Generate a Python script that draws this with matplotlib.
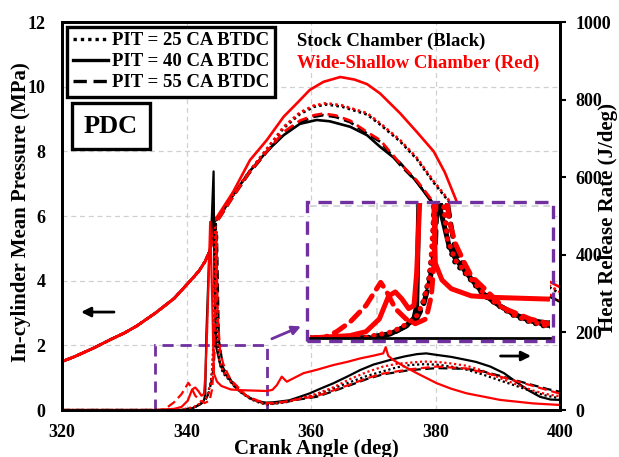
import matplotlib
matplotlib.use("Agg")
import matplotlib.pyplot as plt
from matplotlib.lines import Line2D
from matplotlib.patches import Rectangle

plt.rcParams['font.family'] = ['Liberation Serif', 'DejaVu Serif']
plt.rcParams['font.weight'] = 'bold'

RED = '#ff0000'
PURPLE = '#7030a0'

# common compression part of the pressure trace (CA deg, MPa)
ca_comp = [320, 322, 325, 328, 330, 332, 335, 337, 338, 340, 341, 342, 343, 343.8]
p_comp = [1.5, 1.65, 1.91, 2.2, 2.38, 2.6, 3.0, 3.3, 3.45, 3.87, 4.08, 4.3, 4.6, 4.95]

# pressure after start of combustion
ca_p_bs = [344.4, 345, 346, 347.5, 350, 352.9, 355.6, 358.2, 360.9, 363, 366.3, 369, 371.1, 374.3, 377, 379.3, 382, 385, 388, 391, 394, 397, 400]
p_bs = [5.8, 5.95, 6.2, 6.65, 7.35, 8.0, 8.5, 8.85, 8.97, 8.93, 8.76, 8.5, 8.14, 7.65, 7.05, 6.45, 5.9, 5.35, 4.85, 4.4, 4.0, 3.65, 3.35]
ca_p_rs = [344.2, 345, 346, 347.5, 350.2, 352.9, 355.6, 357.8, 359.8, 362, 364.7, 367, 369, 371.1, 374.3, 377, 379.7, 381.5, 383.4, 386, 389, 392, 395, 398, 400]
p_rs = [5.8, 6.0, 6.3, 6.75, 7.73, 8.35, 9.07, 9.5, 9.9, 10.15, 10.3, 10.22, 10.08, 9.79, 9.18, 8.6, 8.0, 7.35, 6.45, 5.9, 5.35, 4.85, 4.4, 4.0, 3.8]
ca_p_dot = [344.6, 346, 347.5, 350, 352.9, 355.6, 358.2, 360.5, 362.5, 365, 369, 371.1, 374.3, 377, 379.6, 382.3, 385, 388, 391, 394, 397, 400]
p_bdot = [5.8, 6.2, 6.65, 7.35, 8.05, 8.72, 9.15, 9.38, 9.45, 9.38, 9.14, 8.83, 8.31, 7.76, 7.06, 6.41, 5.85, 5.3, 4.8, 4.35, 3.95, 3.6]
p_rdot = [5.8, 6.2, 6.65, 7.36, 8.08, 8.76, 9.2, 9.42, 9.49, 9.42, 9.18, 8.87, 8.35, 7.8, 7.1, 6.45, 5.9, 5.35, 4.85, 4.4, 4.0, 3.65]
ca_p_dash = [344.8, 346, 347.5, 350, 352.9, 355.6, 358.2, 360.5, 362, 364, 366.3, 369, 371.1, 374.3, 377, 379.6, 382, 385, 388, 391, 394, 397, 400]
p_bdash = [5.8, 6.15, 6.6, 7.3, 7.98, 8.55, 8.9, 9.07, 9.12, 9.06, 8.9, 8.55, 8.3, 7.58, 7.05, 6.4, 5.9, 5.35, 4.85, 4.4, 4.0, 3.65, 3.35]
p_rdash = [5.8, 6.15, 6.6, 7.32, 8.0, 8.6, 8.95, 9.12, 9.17, 9.11, 8.95, 8.6, 8.35, 7.63, 7.1, 6.45, 5.95, 5.4, 4.9, 4.45, 4.05, 3.7, 3.4]

# heat release rate (J/deg)
ca_h_bs = [320, 336, 339.6, 341, 342.2, 342.8, 343.0, 343.2, 343.6, 344.0, 344.35, 344.5, 344.8, 345.4, 345.9, 346.6, 347.4, 348.1, 349.1, 350.3, 351.5, 352.8, 354, 355, 356.5, 358, 359.8, 361.5, 363.6, 365.8, 367.9, 370, 372.7, 375, 377, 378.5, 380.2, 382.5, 385, 386.5, 388.8, 391, 393, 395, 396.8, 398.5, 400]
h_bs = [0, 0, 0, 5, 15, 25, 40, 200, 380, 470, 615, 300, 160, 118, 100, 85, 68, 54, 42, 30, 22, 19, 20, 22, 25, 33, 43, 55, 69, 86, 103, 117, 129, 138, 144, 146, 142, 137, 129, 124, 112, 95, 72, 50, 34, 27, 26]

ca_h_rs = [320, 335, 338, 339.2, 340.2, 340.9, 341.4, 341.9, 342.4, 342.8, 343.0, 343.3, 343.8, 344.1, 344.4, 344.9, 345.6, 347.1, 349.0, 352.9, 353.8, 354.5, 355.3, 356.1, 358.8, 361, 363.6, 365.8, 367.9, 370, 371.6, 372.0, 372.4, 373.2, 375, 377.0, 380.2, 382.5, 385.0, 390.4, 395.7, 400]
h_rs = [0, 0, 3, 8, 24, 53, 58, 49, 37, 41, 82, 200, 485, 300, 94, 73, 62, 53, 51, 49, 52, 64, 86, 73, 95, 104, 116, 124, 133, 140, 146, 162, 140, 129, 112, 95, 69, 55, 43, 26, 17, 13]

ca_h_bdot = [320, 339, 339.6, 341.1, 342.2, 342.9, 343.4, 343.9, 344.2, 344.4, 344.7, 344.9, 345.1, 345.4, 345.9, 346.6, 347.4, 348.1, 349.1, 350.3, 351.5, 352.8, 354, 356, 358, 360.9, 363.5, 366.3, 369, 371.6, 373.8, 375.9, 378, 380.2, 382.5, 385.0, 387.5, 390.4, 393, 395.7, 397.5, 400]
h_bdot = [0, 0, 2, 6, 16, 24, 41, 73, 115, 250, 480, 300, 156, 115, 94, 82, 66, 53, 41, 28, 20, 14, 16, 20, 28, 39, 55, 72, 88, 100, 110, 116, 118, 117, 112, 104, 92, 76, 62, 47, 38, 30]
ca_h_rdot = [320, 339, 339.8, 341.2, 342.3, 343.0, 343.5, 344.0, 344.3, 344.6, 344.8, 345.0, 345.3, 345.9, 346.6, 347.4, 348.1, 349.1, 350.3, 351.5, 352.8, 354, 356, 358, 360.9, 363.5, 366.3, 369, 371.6, 373.8, 375.9, 378, 380.2, 382.5, 385.0, 387.5, 390.4, 393, 395.7, 397.5, 400]
h_rdot = [0, 0, 3, 8, 18, 28, 45, 80, 160, 470, 290, 170, 125, 98, 84, 68, 55, 42, 29, 21, 15, 17, 21, 29, 42, 58, 80, 98, 112, 119, 122, 125, 124, 120, 114, 102, 82, 66, 50, 42, 35]

ca_h_bdash = [320, 339, 339.8, 341.2, 342.3, 343.0, 343.5, 344.0, 344.4, 344.7, 344.9, 345.2, 345.5, 345.9, 346.6, 347.4, 348.1, 349.1, 350.3, 351.5, 352.8, 354, 356, 358, 360.9, 363.5, 366.3, 369, 371.6, 375.9, 380.2, 385, 387.5, 390.4, 393, 395.7, 398, 400]
h_bdash = [0, 0, 2, 6, 16, 24, 41, 73, 115, 250, 450, 180, 150, 108, 90, 70, 56, 42, 30, 22, 16, 17, 21, 27, 34, 48, 64, 80, 92, 103, 108, 106, 100, 88, 76, 64, 54, 47]
ca_h_rdash = [320, 336, 337.0, 338.0, 339.2, 340.3, 340.7, 341.4, 342.2, 342.9, 343.7, 344.1, 344.3, 344.6, 344.8, 345.0, 345.4, 345.9, 346.6, 347.1, 348.1, 349.6, 351.5, 352.9, 354, 356, 358, 360.9, 363.5, 366.3, 369, 371.6, 375.9, 380.2, 385, 390.4, 395.7, 400]
h_rdash = [0, 0, 8, 20, 41, 70, 60, 37, 24, 18, 24, 53, 94, 250, 460, 250, 150, 119, 94, 78, 62, 37, 24, 18, 18, 22, 28, 36, 50, 66, 82, 94, 105, 112, 107, 86, 62, 42]

legend_labels = ['PIT = 25 CA BTDC', 'PIT = 40 CA BTDC', 'PIT = 55 CA BTDC']

DOT = (0, (1, 1.2))
DASH = (0, (4, 2))

fig = plt.figure(figsize=(6.19, 4.57), dpi=100)
ax = fig.add_axes([0.1002, 0.1028, 0.8045, 0.849])
ax2 = ax.twinx()

# pressure traces
lw_p = 1.9
pressure = [
    (ca_p_dash, p_bdash, 'black', DASH),
    (ca_p_dot, p_bdot, 'black', DOT),
    (ca_p_bs, p_bs, 'black', '-'),
    (ca_p_dash, p_rdash, RED, DASH),
    (ca_p_dot, p_rdot, RED, DOT),
    (ca_p_rs, p_rs, RED, '-'),
]
for ca, p, c, ls in pressure:
    ax.plot(ca_comp + ca, p_comp + p, color=c, ls=ls, lw=lw_p)
ax.plot(ca_comp, p_comp, color=RED, lw=lw_p)

hrr = [
    (ca_h_bdash, h_bdash, 'black', DASH),
    (ca_h_bdot, h_bdot, 'black', DOT),
    (ca_h_bs, h_bs, 'black', '-'),
    (ca_h_rdash, h_rdash, RED, DASH),
    (ca_h_rdot, h_rdot, RED, DOT),
    (ca_h_rs, h_rs, RED, '-'),
]
for ca, h, c, ls in hrr:
    ax2.plot(ca, h, color=c, ls=ls, lw=1.6)

ax.set_xlim(320, 400)
ax.set_ylim(0, 12)
ax2.set_ylim(0, 1000)
ax.set_xticks([320, 340, 360, 380, 400])
ax.set_yticks(range(0, 13, 2))
ax2.set_yticks(range(0, 1001, 200))
ax.grid(True, color='#d0d0d0', ls=(0, (4, 3)), lw=0.9)
ax.set_axisbelow(True)
for a in (ax, ax2):
    for s in a.spines.values():
        s.set_linewidth(2)
ax.tick_params(axis='both', length=0, labelsize=13)
ax.tick_params(axis='y', pad=12)
ax.tick_params(axis='x', pad=10)
ax2.tick_params(axis='y', length=4, width=1.5, direction='out', labelsize=13, pad=7)

fig.text(21 / 619, 1 - 212 / 457, 'In-cylinder Mean Pressure (MPa)', rotation=90,
         ha='center', va='center', fontsize=15)
fig.text(608 / 619, 1 - 217 / 457, 'Heat Release Rate (J/deg)', rotation=90,
         ha='center', va='center', fontsize=15)
fig.text(316 / 619, 1 - 449 / 457, 'Crank Angle (deg)', ha='center', va='center', fontsize=15)

# legend
handles = [Line2D([], [], color='black', ls=DOT, lw=2.4),
           Line2D([], [], color='black', ls='-', lw=2.4),
           Line2D([], [], color='black', ls=DASH, lw=2.4)]
leg = ax.legend(handles, legend_labels, loc='upper left', bbox_to_anchor=(0.01, 0.988),
                borderaxespad=0, fontsize=13.5, handlelength=1.9, handletextpad=0.2,
                labelspacing=0.2, borderpad=0.3, fancybox=False, framealpha=1,
                edgecolor='black')
leg.get_frame().set_linewidth(2.4)

ax.text(0.098, 0.732, 'PDC', transform=ax.transAxes, ha='center', va='center', fontsize=19,
        bbox=dict(boxstyle='square,pad=0.45', fc='white', ec='black', lw=2.4))
ax.text(0.472, 0.951, 'Stock Chamber (Black)', transform=ax.transAxes, ha='left', va='center',
        fontsize=13.5, color='black')
ax.text(0.472, 0.894, 'Wide-Shallow Chamber (Red)', transform=ax.transAxes, ha='left',
        va='center', fontsize=13.5, color=RED)

# axis arrows
ax.annotate('', xy=(322.6, 3.03), xytext=(328.8, 3.03),
            arrowprops=dict(arrowstyle='-|>', color='black', lw=2, mutation_scale=14))
ax.annotate('', xy=(395.8, 1.67), xytext=(390.0, 1.67),
            arrowprops=dict(arrowstyle='-|>', color='black', lw=2, mutation_scale=14))

# zoom region and pointer
ax.add_patch(Rectangle((335, 0), 18, 2, fill=False, ec=PURPLE, lw=2, ls=(0, (4, 2.5)),
                       zorder=5, clip_on=False))
ax.annotate('', xy=(358.8, 2.62), xytext=(353.3, 2.17),
            arrowprops=dict(arrowstyle='-|>', color=PURPLE, lw=2, mutation_scale=13))

# inset
INSET_DOT = (0, (0.1, 1.5))
INSET_DASH = (0, (2.5, 1.6))
inset_styles = {DOT: INSET_DOT, DASH: INSET_DASH, '-': '-'}
axi = fig.add_axes([310 / 619, 1 - 338 / 457, 240 / 619, 135 / 457])
axi.set_facecolor('white')
for ca, h, c, ls in hrr:
    axi.plot(ca, h, color=c, ls=inset_styles[ls], lw=3.6, dash_capstyle='round',
             solid_capstyle='round')
axi.set_xlim(335, 353)
axi.set_ylim(0, 170)
axi.set_xticks([340])
axi.set_yticks([166.7])
axi.grid(True, color='#d0d0d0', ls=(0, (4, 3)), lw=1.2)
axi.set_axisbelow(True)
axi.tick_params(length=0, labelbottom=False, labelleft=False)
for k, s in axi.spines.items():
    s.set_visible(k == 'bottom')
axi.spines['bottom'].set_linewidth(2)

fig.add_artist(Rectangle((307 / 619, 1 - 341 / 457), 246 / 619, 139 / 457, fill=False,
                         ec=PURPLE, lw=2.4, ls=(0, (4, 2.5)), transform=fig.transFigure,
                         zorder=10))

fig.savefig('out.png', dpi=100)
